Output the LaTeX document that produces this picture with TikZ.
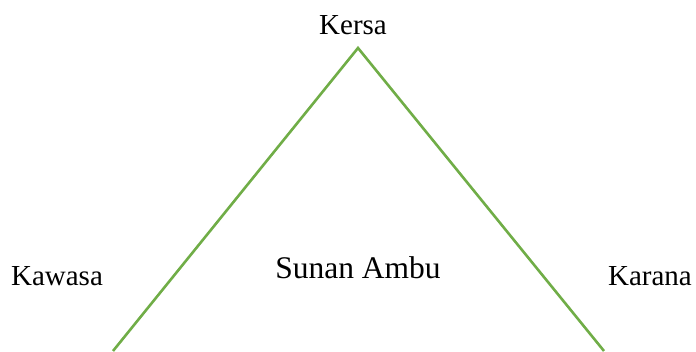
\documentclass[tikz,border=0pt]{standalone}
\usepackage{fontspec}
\setmainfont{Liberation Serif}
\definecolor{tgreen}{HTML}{70AD47}
\begin{document}
\begin{tikzpicture}[x=1pt,y=-1pt,
  lbl/.style={inner sep=0pt,font=\fontsize{29}{33}\selectfont},
  big/.style={inner sep=0pt,font=\fontsize{31.5}{36}\selectfont},
  side/.style={draw=tgreen,line width=2.6pt}]
\useasboundingbox (0,0) rectangle (696,351);
\node[lbl] (kersa) at (353,25) {Kersa};
\node[lbl] (kawasa) at (57,276) {Kawasa};
\node[lbl] (karana) at (650,276) {Karana};
\node[big] (sunan) at (358,268) {Sunan Ambu};
\coordinate (apex) at (358,48);
\coordinate (bl) at (113,351);
\coordinate (br) at (604,351);
\draw[side,line join=miter] (bl) -- (apex) -- (br);
\end{tikzpicture}
\end{document}
